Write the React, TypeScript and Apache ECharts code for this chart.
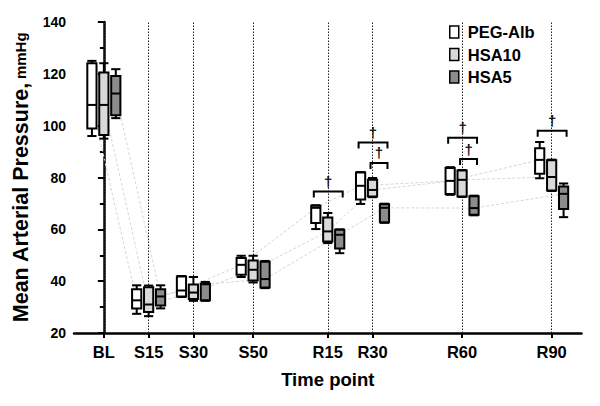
import React, { useEffect, useRef } from 'react';
import * as echarts from 'echarts';

// Time points (minutes from baseline) and their labels
const timePoints = [0, 15, 30, 50, 75, 90, 120, 150];
const timeLabels = ['BL', 'S15', 'S30', 'S50', 'R15', 'R30', 'R60', 'R90'];
const groupNames = ['PEG-Alb', 'HSA10', 'HSA5'];

// Box plot values per time point: [min, q1, median, q3, max] (mmHg)
const pegAlb = [
  [96.0, 98.9, 108.0, 124.1, 125.0],
  [27.4, 29.5, 32.6, 36.9, 38.4],
  [33.9, 34.1, 36.4, 41.8, 42.0],
  [41.6, 42.5, 46.3, 48.9, 49.8],
  [60.1, 62.4, 68.3, 69.1, 69.3],
  [69.8, 71.5, 76.8, 81.9, 82.1],
  [73.3, 73.6, 78.7, 83.7, 84.0],
  [79.7, 81.4, 86.8, 91.3, 93.7],
];
const hsa10 = [
  [95.0, 96.4, 108.0, 120.5, 124.1],
  [26.5, 28.1, 31.0, 37.7, 38.3],
  [32.4, 33.1, 35.6, 38.7, 41.6],
  [39.5, 40.3, 44.4, 48.0, 49.8],
  [54.7, 55.3, 59.2, 64.6, 66.3],
  [72.4, 72.7, 75.2, 79.1, 79.8],
  [72.5, 72.7, 79.1, 82.7, 82.9],
  [74.8, 75.0, 80.2, 86.7, 86.9],
];
const hsa5 = [
  [102.9, 104.0, 112.4, 119.2, 121.8],
  [29.5, 30.6, 34.1, 36.9, 38.4],
  [32.4, 32.6, 38.8, 39.0, 39.7],
  [37.3, 37.6, 40.8, 47.5, 47.8],
  [50.8, 52.6, 57.9, 59.8, 60.0],
  [62.5, 62.7, 68.3, 69.7, 69.9],
  [65.4, 65.6, 68.2, 72.8, 73.0],
  [64.7, 67.8, 73.7, 76.5, 77.7],
];

// Significance brackets: [time point (min), level (mmHg), from group, to group]
const sigBrackets = [
  [75, 74.6, 0, 2],
  [90, 93.5, 0, 2],
  [90, 85.6, 1, 2],
  [120, 95.3, 0, 2],
  [120, 87.1, 1, 2],
  [150, 98.0, 0, 2],
];
const sigMark = '†';

// Styling / layout constants
const groupOffsets = [-4, 0, 4]; // minutes
const fills = ['#ffffff', '#d9d9d9', '#8c8c8c'];
const font = "'Liberation Sans', Arial, sans-serif";

const groups = [pegAlb, hsa10, hsa5];

function boxRender(fill: string) {
  return (params: any, api: any) => {
    const x = api.value(0);
    const cx = api.coord([x, api.value(3)])[0];
    const yMin = api.coord([x, api.value(1)])[1];
    const yQ1 = api.coord([x, api.value(2)])[1];
    const yMed = api.coord([x, api.value(3)])[1];
    const yQ3 = api.coord([x, api.value(4)])[1];
    const yMax = api.coord([x, api.value(5)])[1];
    const hw = 4.6;
    const st = { stroke: '#000', lineWidth: 2 };
    return {
      type: 'group',
      children: [
        { type: 'line', shape: { x1: cx, y1: yMax, x2: cx, y2: yQ3 }, style: st },
        { type: 'line', shape: { x1: cx, y1: yQ1, x2: cx, y2: yMin }, style: st },
        { type: 'line', shape: { x1: cx - hw, y1: yMax, x2: cx + hw, y2: yMax }, style: st },
        { type: 'line', shape: { x1: cx - hw, y1: yMin, x2: cx + hw, y2: yMin }, style: st },
        {
          type: 'rect',
          shape: { x: cx - hw, y: yQ3, width: hw * 2, height: yQ1 - yQ3 },
          style: { fill, stroke: '#000', lineWidth: 2 },
        },
        { type: 'line', shape: { x1: cx - hw, y1: yMed, x2: cx + hw, y2: yMed }, style: st },
      ],
    };
  };
}

function bracketRender(params: any, api: any) {
  const t = api.value(0);
  const lvl = api.value(1);
  const from = api.value(2);
  const to = api.value(3);
  const p1 = api.coord([t + groupOffsets[from], lvl]);
  const p2 = api.coord([t + groupOffsets[to], lvl]);
  const x1 = p1[0] - 2;
  const x2 = p2[0] + 3;
  const y = p1[1];
  return {
    type: 'group',
    children: [
      {
        type: 'polyline',
        shape: { points: [[x1, y + 6], [x1, y], [x2, y], [x2, y + 6]] },
        style: { stroke: '#000', lineWidth: 2, fill: 'none' },
      },
      {
        type: 'text',
        x: (x1 + x2) / 2,
        y: y - 10,
        style: {
          text: sigMark,
          fill: '#111',
          fontSize: 15,
          fontWeight: 'bold',
          fontFamily: font,
          align: 'center',
          verticalAlign: 'middle',
        },
      },
    ],
  };
}

export default function App() {
  const ref = useRef<HTMLDivElement>(null);
  useEffect(() => {
    if (!ref.current) return;
    const chart = echarts.init(ref.current, undefined, { renderer: 'svg' });

    const boxSeries = groups.map((g, gi) => ({
      name: groupNames[gi],
      type: 'custom',
      z: 5,
      renderItem: boxRender(fills[gi]),
      itemStyle: { color: fills[gi], borderColor: '#000' },
      encode: { x: 0, y: [1, 2, 3, 4, 5] },
      data: g.map((v, ti) => [timePoints[ti] + groupOffsets[gi], ...v]),
    }));

    const trendSeries = groups.map((g, gi) => ({
      name: groupNames[gi] + ' trend',
      type: 'line',
      z: 2,
      silent: true,
      symbol: 'none',
      lineStyle: { color: '#d6d6d6', width: 1, type: [3, 2] },
      data: g.map((v, ti) => [timePoints[ti] + groupOffsets[gi], v[2]]),
    }));

    const guideSeries = {
      name: 'guides',
      type: 'line',
      z: 1,
      silent: true,
      data: [],
      markLine: {
        silent: true,
        symbol: ['none', 'none'],
        label: { show: false },
        lineStyle: { color: '#222', width: 1, type: [1.5, 1.5] },
        data: timePoints.map((t) => ({ xAxis: t })),
      },
    };

    const bracketSeries = {
      name: 'significance',
      type: 'custom',
      z: 6,
      itemStyle: { color: '#000' },
      renderItem: bracketRender,
      encode: { x: 0, y: 1 },
      data: sigBrackets,
    };

    chart.setOption({
      animation: false,
      backgroundColor: '#ffffff',
      grid: { left: 74, right: 18.5, top: 22, bottom: 73, containLabel: false },
      legend: {
        orient: 'vertical',
        left: 444,
        top: 18.5,
        itemWidth: 9,
        itemHeight: 12,
        itemGap: 5.5,
        icon: 'rect',
        textStyle: { fontFamily: font, fontWeight: 'bold', fontSize: 16.5, color: '#000', padding: [0, 0, 0, 4] },
        data: groupNames.map((n, i) => ({
          name: n,
          icon: 'rect',
          itemStyle: { color: fills[i], borderColor: '#000', borderWidth: 1.5 },
        })),
      },
      xAxis: {
        type: 'value',
        min: -10,
        max: 160,
        name: 'Time point',
        nameLocation: 'middle',
        nameGap: 37,
        nameTextStyle: { fontFamily: font, fontWeight: 'bold', fontSize: 18.5, color: '#000' },
        splitLine: { show: false },
        axisLine: { lineStyle: { color: '#000', width: 2.5 } },
        axisTick: { show: true, customValues: timePoints, length: 5, lineStyle: { color: '#000', width: 2 } },
        axisLabel: {
          customValues: timePoints,
          formatter: (v: number) => timeLabels[timePoints.indexOf(v)] ?? '',
          fontFamily: font,
          fontWeight: 'bold',
          fontSize: 16.5,
          color: '#000',
          margin: 10,
        },
      },
      yAxis: {
        type: 'value',
        min: 20,
        max: 140,
        interval: 20,
        name: '{a|Mean Arterial Pressure,} {b|mmHg}',
        nameLocation: 'middle',
        nameGap: 40,
        nameTextStyle: {
          color: '#000',
          rich: {
            a: { fontFamily: font, fontWeight: 'bold', fontSize: 21.5, color: '#000' },
            b: { fontFamily: font, fontWeight: 'bold', fontSize: 15, color: '#000' },
          },
        },
        splitLine: { show: false },
        axisLine: { show: true, lineStyle: { color: '#000', width: 2.5 } },
        axisTick: { show: true, length: 6, lineStyle: { color: '#000', width: 2 } },
        minorTick: { show: true, splitNumber: 2, length: 4, lineStyle: { color: '#000', width: 2 } },
        minorSplitLine: { show: false },
        axisLabel: { fontFamily: font, fontWeight: 'bold', fontSize: 14, color: '#000', margin: 8 },
      },
      series: [guideSeries, ...trendSeries, ...boxSeries, bracketSeries],
    });
    return () => chart.dispose();
  }, []);
  return <div ref={ref} style={{ width: 600, height: 406, margin: -8 }} />;
}
